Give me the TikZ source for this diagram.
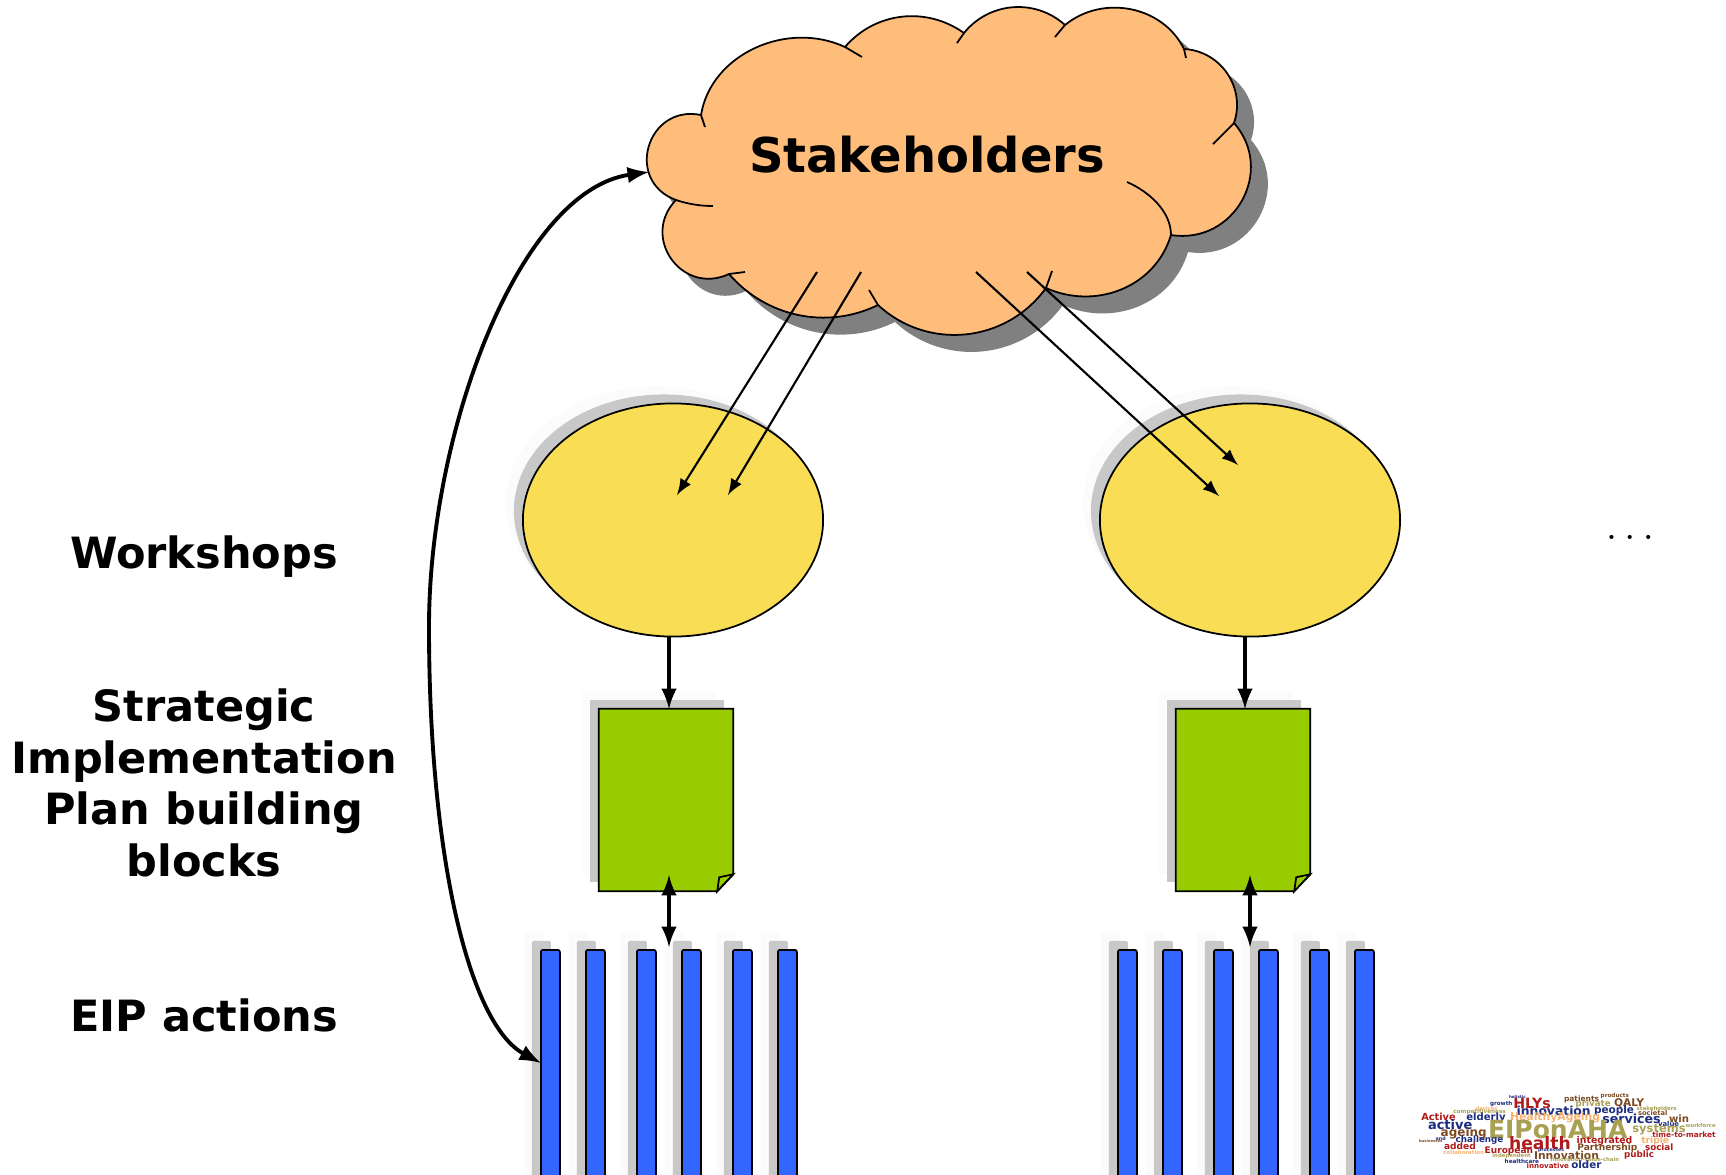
\documentclass[tikz,border=0pt]{standalone}
\usepackage{fontspec}
\usepackage{graphicx}
\setmainfont{DejaVu Sans}
\usetikzlibrary{shapes.geometric,shadows}

\definecolor{cloudfill}{HTML}{FFBD7C}
\definecolor{workfill}{HTML}{F9DE55}
\definecolor{planfill}{HTML}{99CC00}
\definecolor{barfill}{HTML}{3366FF}
\definecolor{softgray}{HTML}{C8C8C8}
\definecolor{faintgray}{HTML}{FBFBFB}
\definecolor{wnavy}{HTML}{1C2C80}
\definecolor{wred}{HTML}{B01A1A}
\definecolor{wolive}{HTML}{A8A052}
\definecolor{wbrown}{HTML}{7C4A22}
\definecolor{worange}{HTML}{F6B26E}

\tikzset{
    softshadow/.style={
        general shadow={fill=faintgray, shadow xshift=-1.7mm, shadow yshift=1.7mm},
        general shadow={fill=softgray, shadow xshift=-0.9mm, shadow yshift=0.9mm}},
    workshop/.style={ellipse, draw, line width=0.5pt, fill=workfill, inner sep=0pt,
        minimum width=3cm, minimum height=2.33cm, softshadow},
    plan/.style={rectangle, inner sep=0pt, minimum width=1.33cm, minimum height=1.81cm, softshadow},
    action/.style={rectangle, rounded corners=0.6pt, draw, line width=0.5pt, fill=barfill,
        anchor=north west, inner sep=0pt, minimum width=0.19cm, minimum height=3.5cm, softshadow},
    rowlabel/.style={font=\fontsize{12.25}{14.65}\selectfont\bfseries, align=center},
    thinarrow/.style={-latex, line width=0.6pt},
    thickarrow/.style={-latex, line width=1pt},
    outline/.style={line width=0.5pt},
}

\def\cloudoutline{(676,200)
    .. controls (624,181) and (647,104) .. (701,115)
    .. controls (711,54) and (787,20) .. (845,47)
    .. controls (875,12) and (926,6) .. (964,33)
    .. controls (989,2) and (1035,-2) .. (1065,25)
    .. controls (1103,-6) and (1163,6) .. (1184,49)
    .. controls (1221,51) and (1246,88) .. (1234,123)
    .. controls (1276,171) and (1234,245) .. (1171,235)
    .. controls (1155,288) and (1095,310) .. (1046,288)
    .. controls (1006,343) and (928,351) .. (878,305)
    .. controls (827,330) and (766,317) .. (729,274)
    .. controls (682,296) and (640,237) .. (676,200) -- cycle}

\begin{document}
\begin{tikzpicture}[x=0.01cm, y=-0.01cm]
    \useasboundingbox (0, 0) rectangle (1726, 1175);
    \clip (0, 0) rectangle (1726, 1175);

    % cloud
    \fill[black!50, shift={(17, 17)}] \cloudoutline;
    \filldraw[fill=cloudfill, outline] \cloudoutline;
    \draw[outline] (701, 115) -- (705, 127);
    \draw[outline] (676, 200) .. controls (688, 204) and (700, 206) .. (713, 206);
    \draw[outline] (729, 274) -- (745, 272);
    \draw[outline] (878, 305) -- (869, 290);
    \draw[outline] (1046, 288) -- (1052, 271);
    \draw[outline] (1171, 235) .. controls (1171, 212) and (1150, 192) .. (1127, 182);
    \draw[outline] (1234, 123) -- (1213, 144);
    \draw[outline] (1184, 49) -- (1186, 58);
    \draw[outline] (1065, 25) -- (1055, 37);
    \draw[outline] (964, 33) -- (957, 43);
    \draw[outline] (845, 47) -- (862, 57);
    \node[font=\fontsize{13.65}{16}\selectfont\bfseries] (stakeholders) at (927, 155) {Stakeholders};

    % workshops
    \node[workshop] (workA) at (673, 520) {};
    \node[workshop] (workB) at (1250, 520) {};

    % building blocks
    \node[plan] (planA) at (666, 800) {};
    \node[plan] (planB) at (1243, 800) {};
    \foreach \pn in {planA, planB} {
        \filldraw[fill=planfill, outline] (\pn.north west) -- (\pn.north east)
            -- ([yshift=0.17cm]\pn.south east) -- ([xshift=-0.16cm]\pn.south east)
            -- (\pn.south west) -- cycle;
        \filldraw[fill=planfill, outline] ([xshift=-0.16cm]\pn.south east)
            -- ([xshift=-0.14cm, yshift=0.14cm]\pn.south east)
            -- ([yshift=0.17cm]\pn.south east) -- cycle;
    }

    % actions
    \foreach \bx [count=\bi] in {540, 585, 636, 681, 732, 777} {
        \node[action] (barA\bi) at (\bx, 949) {};
        \node[action] (barB\bi) at (\bx+577, 949) {};
    }

    % row labels
    \node[rowlabel] (lblwork) at (204, 557) {Workshops};
    \node[rowlabel] (lblplan) at (204, 783) {Strategic\\Implementation\\Plan building\\blocks};
    \node[rowlabel] (lblbar) at (204, 1015) {EIP actions};
    \node[font=\fontsize{12}{16}\selectfont] (more) at (1630, 537) {$\ldots$};

    % free ends
    \coordinate (outA1) at (817, 272);
    \coordinate (outA2) at (861, 272);
    \coordinate (outB1) at (976, 272);
    \coordinate (outB2) at (1027, 272);
    \coordinate (inA1) at (677, 495);
    \coordinate (inA2) at (728, 495);
    \coordinate (inB1) at (1219, 496);
    \coordinate (inB2) at (1238, 465);
    \coordinate (workoutA) at (669, 636);
    \coordinate (workoutB) at (1245, 636);
    \coordinate (planinA) at (669, 709);
    \coordinate (planinB) at (1245, 709);
    \coordinate (plandownA) at (669, 875);
    \coordinate (plandownB) at (1250, 875);
    \coordinate (barupA) at (669, 947);
    \coordinate (barupB) at (1250, 947);
    \coordinate (stakein) at (649, 172);
    \coordinate (barin) at (541, 1063);

    % arrows
    \draw[thinarrow] (outA1) -- (inA1);
    \draw[thinarrow] (outA2) -- (inA2);
    \draw[thinarrow] (outB1) -- (inB1);
    \draw[thinarrow] (outB2) -- (inB2);
    \draw[thickarrow] (workoutA) -- (planinA);
    \draw[thickarrow] (workoutB) -- (planinB);
    \draw[thickarrow, latex-latex] (plandownA) -- (barupA);
    \draw[thickarrow, latex-latex] (plandownB) -- (barupB);
    \draw[line width=1.1pt, latex-latex] (barin) .. controls (470, 1025) and (429, 860) .. (429, 627)
        .. controls (429, 430) and (520, 190) .. (stakein);

    % word cloud
    \begin{scope}[shift={(1400, 1075)}, x=0.01cm/3, y=-0.01cm/3]
        \foreach \wx/\wy/\ww/\wc/\wt [count=\wi] in {
            325/65/50/wnavy/holistic, 600/63/85/wbrown/products, 338/85/112/wred/HLYs,
            490/72/105/wbrown/patients, 268/86/67/wnavy/growth, 640/85/90/wbrown/QALY,
            525/88/105/wolive/private, 225/100/65/worange/devices, 348/107/222/wnavy/innovation,
            580/107/120/wnavy/people, 708/100/120/wolive/stakeholders,
            158/112/157/wolive/competitiveness, 712/115/88/wbrown/societal, 62/127/103/wred/Active,
            197/129/118/wnavy/elderly, 328/129/270/worange/HealthyAgeing, 605/130/175/wnavy/services,
            805/130/60/wbrown/win, 82/150/133/wnavy/active, 772/148/63/wnavy/value,
            262/165/418/wolive/EIPonAHA, 855/152/90/wolive/workforce, 120/175/138/wbrown/ageing,
            695/163/160/wolive/systems, 755/180/190/wred/time-to-market, 105/190/30/wnavy/and,
            55/199/70/wbrown/businesses, 165/196/143/wnavy/challenge, 325/205/185/wred/health,
            528/198/167/wred/integrated, 722/197/83/worange/triple, 130/213/95/wred/added,
            530/220/180/wbrown/Partnership, 733/218/85/wred/social, 252/227/145/wred/European,
            412/226/78/wnavy/processes, 128/231/122/worange/collaboration, 275/243/115/wolive/independent,
            400/240/195/wbrown/Innovation, 670/240/90/wred/public, 312/258/103/wnavy/healthcare,
            450/254/205/wolive/innovation-value-chain, 378/271/127/wred/innovative, 512/270/90/wnavy/older} {
            \pgfmathsetmacro{\wlen}{\ww/300}
            \node[anchor=west, inner sep=0pt, text=\wc, font=\bfseries] (word\wi) at (\wx, \wy)
                {\resizebox{\wlen cm}{!}{\wt}};
        }
    \end{scope}
\end{tikzpicture}
\end{document}
